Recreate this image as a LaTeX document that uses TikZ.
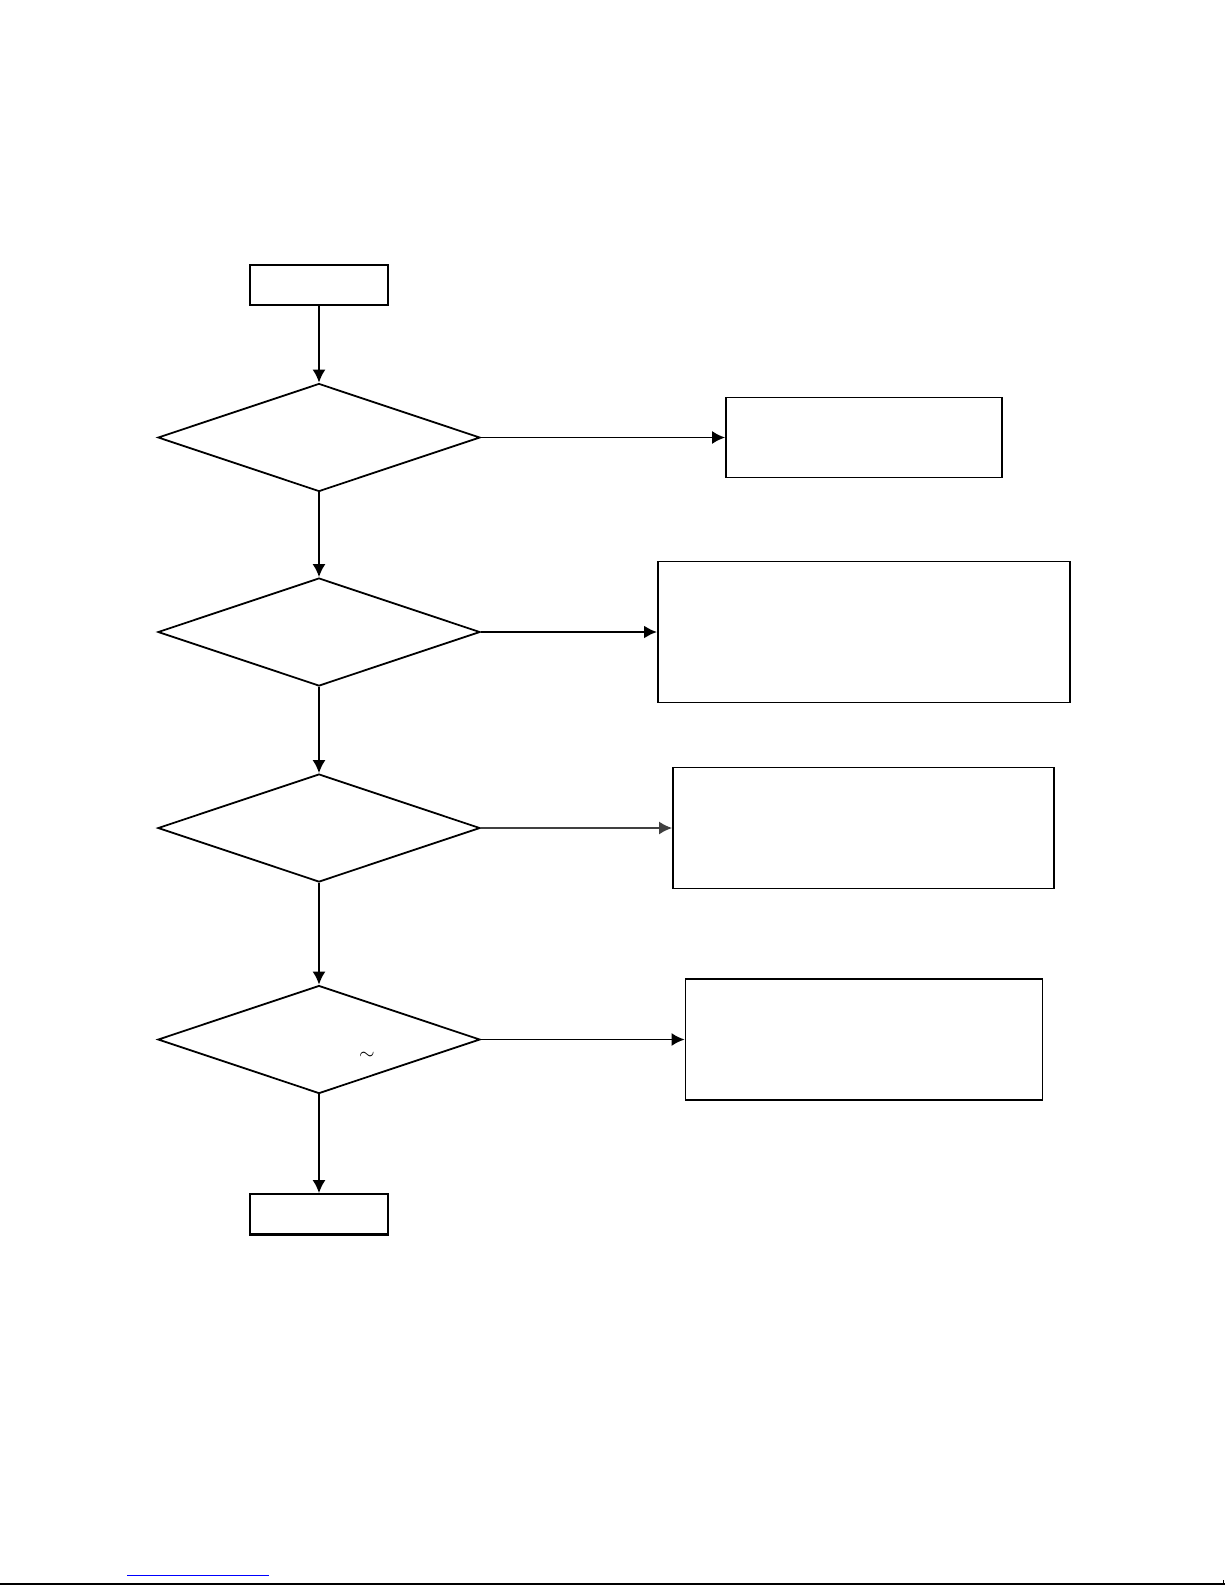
\documentclass[tikz,border=0pt]{standalone}
\usetikzlibrary{shapes.geometric,arrows.meta}
\begin{document}
\begin{tikzpicture}[x=0.5pt,y=-0.5pt,
  line width=0.9pt,
  box/.style={draw,rectangle,inner sep=0pt},
  dec/.style={draw,diamond,inner sep=0pt,minimum width=161pt,minimum height=54pt},
  arr/.style={-{Latex[length=6.5pt,width=6.5pt]}}]
\useasboundingbox (0,0) rectangle (1225,1585);
% start / end boxes
\node[box,minimum width=69pt,minimum height=20pt] (start) at (319,285) {};
\node[box,minimum width=69pt,minimum height=20pt] (end) at (319,1214) {};
\draw[line width=1.4pt] (end.south west) -- (end.south east);
% decisions
\node[dec] (d1) at (319,437.5) {};
\node[dec] (d2) at (319,632) {};
\node[dec] (d3) at (319,828) {};
\node[dec] (d4) at (319,1039.5) {};
\node[inner sep=0pt] (tl) at (367,1056) {$\sim$};
% right boxes
\node[box,minimum width=138pt,minimum height=40pt] (b1) at (864,437.5) {};
\node[box,minimum width=206pt,minimum height=70.5pt] (b2) at (864,632) {};
\node[box,minimum width=190.5pt,minimum height=60.5pt] (b3) at (863.5,828) {};
\node[box,minimum width=178.5pt,minimum height=60.5pt] (b4) at (864,1039.5) {};
% connectors
\draw[arr] (start) -- (d1);
\draw[arr] (d1) -- (d2);
\draw[arr] (d2) -- (d3);
\draw[arr] (d3) -- (d4);
\draw[arr] (d4) -- (end);
\draw[arr] (d1) -- (b1);
\draw[arr,line width=1.3pt] (d2) -- (b2);
\draw[arr,draw=black!75] (d3) -- (b3);
\draw[arr] (d4) -- (b4);
% footer lines
\coordinate (fl) at (0,1584);
\coordinate (fr) at (1225,1584);
\coordinate (ft) at (1223,1580);
\draw[line width=1.2pt] (fl) -- (fr);
\draw[line width=0.5pt] (fr) ++(-2,0) -- (ft);
\coordinate (bl) at (127,1575.5);
\coordinate (br) at (269,1575.5);
\draw[blue,line width=0.6pt] (bl) -- (br);
\end{tikzpicture}
\end{document}
